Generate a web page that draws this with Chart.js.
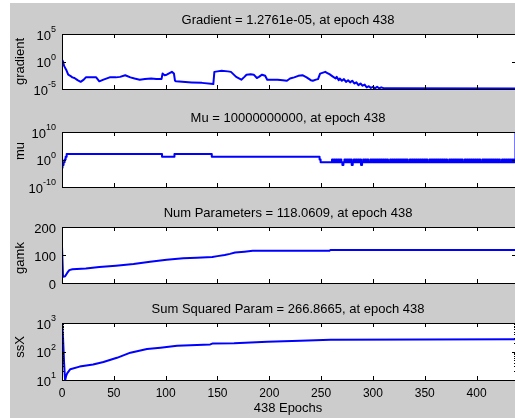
<!DOCTYPE html>
<html>
<head>
<meta charset="utf-8">
<script src="https://cdn.jsdelivr.net/npm/chart.js@4.4.0/dist/chart.umd.min.js"></script>
<style>
  html, body { margin: 0; padding: 0; background: #fff; overflow: hidden; width: 515px; height: 418px; }
  #fig { position: absolute; left: 10px; top: 3px; width: 505px; height: 415px; background: #cccccc; }
  canvas { position: absolute; left: 0; top: 0; }
</style>
</head>
<body>
<div id="fig"></div>
<canvas id="gradChart" width="520" height="418"></canvas>
<canvas id="muChart" width="520" height="418"></canvas>
<canvas id="gamkChart" width="520" height="418"></canvas>
<canvas id="ssxChart" width="520" height="418"></canvas>
<script>
// training state, 438 epochs
const epochTicks = [0, 50, 100, 150, 200, 250, 300, 350, 400]
const lastEpoch = 438

const gradEpochs = [0, 1, 2, 4, 6, 8, 10, 12, 15, 18, 21, 23, 33, 36, 40, 46, 52, 56, 61, 66,
    70, 75, 80, 86, 91, 96, 97, 99, 101, 106, 108, 109, 110, 125, 135, 146, 147, 150, 154, 160,
    163, 168, 173, 176, 178, 182, 185, 188, 190, 193, 196, 198, 208, 213, 217, 220, 224, 228, 232, 236,
    240, 242, 245, 247, 249, 254, 256, 258, 261, 264, 265, 267, 268, 270, 272, 274, 276, 278, 280, 282,
    284, 286, 288, 290, 292, 294, 296, 298, 300, 302, 304, 306, 308, 311, 438]
const gradValues = [2, 1, 0.16, 0.032, 4e-3, 2.5e-3, 1.3e-3, 1e-3, 4e-4, 2e-4, 5e-4, 1.3e-3, 1.3e-3, 2.5e-4, 5e-4, 1.3e-3, 1.3e-3, 1.6e-3, 3.2e-3, 1.3e-3,
    8e-4, 5e-4, 6.3e-4, 8e-4, 6.3e-4, 6.3e-4, 6.3e-3, 3.2e-3, 4e-3, 1.3e-2, 6.3e-3, 3.2e-4, 2.5e-4, 1.6e-4, 1.3e-4, 8e-5, 1.3e-2, 1.6e-2, 2e-2, 1.6e-2,
    1.3e-2, 1.6e-3, 5e-4, 1.6e-3, 4e-3, 5e-3, 4e-3, 1e-3, 1.6e-3, 4e-3, 2.5e-3, 5e-4, 5e-4, 4e-4, 3.2e-4, 8e-4, 1.3e-3, 2.5e-3, 3.2e-3, 1.3e-3,
    4e-4, 3.2e-4, 5e-4, 6.3e-4, 6.3e-3, 1.3e-2, 8e-3, 5e-3, 2e-3, 8e-4, 1.6e-3, 4e-4, 8e-4, 3.2e-4, 6.3e-4, 2e-4, 4e-4, 1.6e-4, 3.2e-4, 1e-4,
    1.6e-4, 5e-5, 1e-4, 4e-5, 6.3e-5, 2e-5, 3.2e-5, 1.6e-5, 2.5e-5, 1.3e-5, 2.5e-5, 1.3e-5, 2e-5, 1.3e-5, 1.2761e-5]

const muEpochs = [0, 1, 2, 3, 4, 5, 96, 97, 108, 109, 144, 145, 248, 249, 250, 260]
const muValues = [1e-3, 1e-2, 0.1, 1, 10, 100, 100, 10, 10, 100, 100, 10, 10, 1, 0.1, 0.1]
// one value per epoch from 261 to 437
const muBandStart = 261
const muBand = [1, .1, 1, .1, 1, .1, 1, .1, 1, .1,
    .01, .1, 1, .1, 1, .1, 1, .1, 1, .01,
    .1, 1, .1, 1, .1, 1, .1, 1, .01, .1,
    1, .1, 1, .1, 1, .1, .1, 1, .1, 1,
    .1, 1, .1, 1, .1, 1, .1, 1, .1, 1,
    .1, 1, .1, 1, .1, .1, 1, .1, 1, .1,
    1, .1, 1, .1, 1, .1, 1, .1, 1, .1,
    1, .1, 1, .1, .1, 1, .1, 1, .1, 1,
    .1, 1, .1, 1, .1, 1, .1, 1, .1, 1,
    .1, 1, .1, .1, 1, .1, 1, .1, 1, .1,
    1, .1, 1, .1, 1, .1, 1, .1, 1, .1,
    1, .1, .1, 1, .1, 1, .1, 1, .1, 1,
    .1, 1, .1, 1, .1, 1, .1, .1, 1, .1,
    1, .1, 1, .1, 1, .1, 1, .1, 1, .1,
    1, .1, 1, .1, .1, 1, .1, 1, .1, 1,
    .1, 1, .1, 1, .1, 1, .1, 1, .1, 1,
    .1, 1, .1, .1, 1, .1, 1, .1, 1, .1,
    1, .1, 1, .1, 1, .1, 1]
const muFinal = 1e10

const gamkEpochs = [0, 1, 3, 5, 7, 10, 23, 36, 52, 69, 85, 101, 117, 130, 145, 150, 157, 162, 167, 176, 184, 258, 259, 438]
const gamkValues = [130, 22, 24, 36, 46, 49, 52, 57, 62, 68, 76, 83, 88, 90, 93, 96, 100, 104, 109, 112, 115, 115, 118, 118.06]

const ssxEpochs = [0, 1, 2, 3, 4, 5, 8, 17, 30, 40, 53, 66, 82, 95, 111, 143, 145, 166, 198, 230, 259, 438]
const ssxValues = [1200, 300, 40, 9.5, 14, 17, 24, 29.5, 35, 43, 60, 91, 122, 136, 158, 177, 190, 195, 219, 240, 257, 266.87]

const gradTickExp = ['-5', '0', '5']
const muTickExp = ['-10', '0', '10']
const gamkTicks = [0, 100, 200]
const ssxTickExp = ['1', '2', '3']
const ssxMinor = [20, 30, 40, 50, 60, 70, 80, 90, 200, 300, 400, 500, 600, 700, 800, 900]

const font = '"Liberation Sans", Arial, sans-serif'

function toPoints(xs, ys) {
    return xs.map((x, i) => ({x: x, y: ys[i]}))
}

let muPoints = toPoints(muEpochs, muValues)
muBand.forEach((v, i) => muPoints.push({x: muBandStart + i, y: v}))
muPoints.push({x: lastEpoch, y: muFinal})

function powerTicks(exps) {
    return exps.map(e => ({value: Math.pow(10, Number(e)), base: '10', exp: e}))
}

const panelBox = {
    id: 'panelBox',
    beforeDraw(chart) {
        const a = chart.chartArea
        chart.ctx.save()
        chart.ctx.fillStyle = '#fff'
        chart.ctx.fillRect(a.left, a.top, a.right - a.left, a.bottom - a.top)
        chart.ctx.restore()
    },
    afterDraw(chart, args, opts) {
        const ctx = chart.ctx
        const a = chart.chartArea
        const x = chart.scales.x
        const y = chart.scales.y
        ctx.save()
        ctx.strokeStyle = '#000'
        ctx.lineWidth = 1
        ctx.strokeRect(Math.round(a.left) + 0.5, Math.round(a.top) + 0.5,
            Math.round(a.right - a.left), Math.round(a.bottom - a.top))

        ctx.beginPath()
        epochTicks.forEach(t => {
            const px = Math.round(x.getPixelForValue(t)) + 0.5
            ctx.moveTo(px, a.top)
            ctx.lineTo(px, a.top + 4)
            ctx.moveTo(px, a.bottom)
            ctx.lineTo(px, a.bottom - 4)
        })
        opts.yTicks.forEach(t => {
            const py = Math.round(y.getPixelForValue(t.value)) + 0.5
            ctx.moveTo(a.left, py)
            ctx.lineTo(a.left + 4, py)
            ctx.moveTo(a.right, py)
            ctx.lineTo(a.right - 4, py)
        })
        ;(opts.minor || []).forEach(v => {
            const py = Math.round(y.getPixelForValue(v)) + 0.5
            ctx.moveTo(a.left, py)
            ctx.lineTo(a.left + 2, py)
            ctx.moveTo(a.right, py)
            ctx.lineTo(a.right - 2, py)
        })
        ctx.stroke()

        ctx.fillStyle = '#000'
        ctx.textBaseline = 'alphabetic'
        const right = a.left - 6
        opts.yTicks.forEach(t => {
            const py = y.getPixelForValue(t.value) + 5.5
            if (t.exp !== undefined) {
                ctx.font = '9px ' + font
                const ew = ctx.measureText(t.exp).width
                ctx.textAlign = 'left'
                ctx.fillText(t.exp, right - ew, py - 7.5)
                ctx.font = '13px ' + font
                ctx.textAlign = 'right'
                ctx.fillText(t.base, right - ew, py)
            } else {
                ctx.font = '13px ' + font
                ctx.textAlign = 'right'
                ctx.fillText(t.label, right, py)
            }
        })

        ctx.font = '13px ' + font
        ctx.textAlign = 'center'
        ctx.fillText(opts.title, (a.left + a.right) / 2 - 1, a.top - 10)

        ctx.save()
        ctx.translate(23.5, opts.yLabelY)
        ctx.rotate(-Math.PI / 2)
        ctx.fillText(opts.yLabel, 0, 0)
        ctx.restore()

        if (opts.xLabel) {
            ctx.font = '12px ' + font
            epochTicks.forEach(t => {
                ctx.fillText(String(t), x.getPixelForValue(t), a.bottom + 16.5)
            })
            ctx.font = '13px ' + font
            ctx.fillText(opts.xLabel, (a.left + a.right) / 2 - 1, 411.5)
        }
        ctx.restore()
    }
}

function makePanel(id, points, yScale, top, bottom, boxOpts, stepped) {
    return new Chart(document.getElementById(id), {
        type: 'line',
        data: {
            datasets: [{
                data: points,
                borderColor: '#0000ff',
                borderWidth: 2,
                borderJoinStyle: 'round',
                borderCapStyle: 'round',
                stepped: stepped || false,
                pointRadius: 0,
                fill: false,
                tension: 0,
                clip: 0
            }]
        },
        options: {
            responsive: false,
            animation: false,
            devicePixelRatio: 1,
            events: [],
            layout: {padding: {left: 62, right: 4, top: top, bottom: 418 - bottom}},
            scales: {
                x: {type: 'linear', min: 0, max: lastEpoch, display: false},
                y: Object.assign({display: false}, yScale)
            },
            plugins: {
                legend: {display: false},
                tooltip: {enabled: false},
                panelBox: boxOpts
            }
        },
        plugins: [panelBox]
    })
}

makePanel('gradChart', toPoints(gradEpochs, gradValues),
    {type: 'logarithmic', min: 1e-5, max: 1e5}, 34, 89,
    {title: 'Gradient = 1.2761e-05, at epoch 438', yLabel: 'gradient', yLabelY: 61.5,
     yTicks: powerTicks(gradTickExp)})

makePanel('muChart', muPoints,
    {type: 'logarithmic', min: 1e-10, max: 1e10}, 132, 187,
    {title: 'Mu = 10000000000, at epoch 438', yLabel: 'mu', yLabelY: 151,
     yTicks: powerTicks(muTickExp)}, 'middle')

makePanel('gamkChart', toPoints(gamkEpochs, gamkValues),
    {type: 'linear', min: 0, max: 200}, 227, 283,
    {title: 'Num Parameters = 118.0609, at epoch 438', yLabel: 'gamk', yLabelY: 258,
     yTicks: gamkTicks.map(v => ({value: v, label: String(v)}))})

makePanel('ssxChart', toPoints(ssxEpochs, ssxValues),
    {type: 'logarithmic', min: 10, max: 1000}, 323, 380,
    {title: 'Sum Squared Param = 266.8665, at epoch 438', yLabel: 'ssX', yLabelY: 347,
     yTicks: powerTicks(ssxTickExp), minor: ssxMinor, xLabel: '438 Epochs'})
</script>
</body>
</html>
